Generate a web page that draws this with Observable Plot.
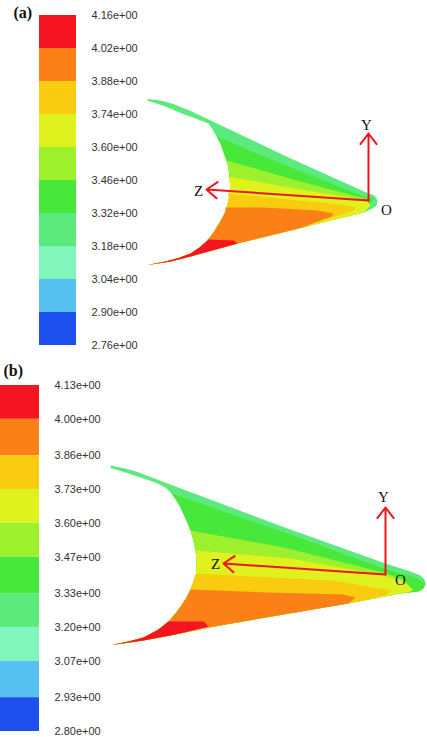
<!DOCTYPE html>
<html><head><meta charset="utf-8">
<script src="https://cdn.jsdelivr.net/npm/d3@7"></script>
<script src="https://cdn.jsdelivr.net/npm/@observablehq/plot@0.6"></script>
<style>
html,body{margin:0;padding:0;background:#fff;overflow:hidden}
#chart{position:relative;width:427px;height:737px}
#chart svg{position:absolute;left:0;top:0}
</style></head><body><div id="chart"></div>
<script>
// Contour palette, top of the legend to bottom
const palette = ["#f5141f","#fb8017","#f9cc10","#dff21e","#9cf02c","#47e83a","#5cea7c","#80f5bc","#56c0f0","#1e50f0"];
const [RED,ORANGE,GOLD,YELLOW,LIME,GREEN,MINT] = palette;

// Legend levels
const ticksA = [4.16,4.02,3.88,3.74,3.60,3.46,3.32,3.18,3.04,2.90,2.76];
const ticksB = [4.13,4.00,3.86,3.73,3.60,3.47,3.33,3.20,3.07,2.93,2.80];

// Panel (a) outline
const aTop    = [[147,98.5],[160,100],[173,103.5],[190,110.5],[208,119],[288,157],[368,193],[374,195],[377,200],[376,205],[372,208],[363,212]];
const aBottom = [[363,212],[300,227.5],[237,243],[190,256],[170,261],[147,264.5]];
const aArc    = [[147,100],[165,106],[180,112.5],[195,118],[208,123],[212,129],[216,136],[220,143],[223,152],[226,160],[228,168],[229,176],[229.5,183],[229.5,190],[228.5,197],[227,204],[225,211],[222,217],[218,224],[213,232],[207,240],[199,247],[190,253],[178,257.5],[165,261],[147,264.5]];
// Panel (a) contour lines, from the arc toward the nose
const aGreenLine  = [[216,136],[290,167],[366,197],[374,197]];
const aLimeLine   = [[226,160],[300,181],[364,198]];
const aYellowLine = [[228,176],[300,189],[366,200],[370,205]];
const aGoldLine   = [[227,193],[290,199],[340,204],[355,207],[354,210]];
const aOrangeLine = [[225,207],[263,207],[317,210],[333,213],[331,216]];
const aRedLine    = [[207,239],[233,240],[237,243]];

// Panel (b) outline
const bTop    = [[110,465],[125,468],[137,471.5],[167,483],[287,528],[385,563],[410,571],[420,575],[424,579],[425,583],[423,588],[418,591],[400,593]];
const bBottom = [[400,593],[353,602],[280,614.5],[208,627],[175,634],[143,640],[111,644.5]];
const bArc    = [[110,467.5],[125,472],[140,477],[155,482],[165,487],[171,493],[176,500],[180,507],[185,518],[190,530],[193,540],[195,550],[196,558],[196,566],[195.5,573],[193,581],[190,589],[186,597],[181,605],[175,613],[168,621],[158,629],[143,637],[128,641],[111,644.5]];
// Panel (b) contour lines
const bGreenLine  = [[171,493],[287,533],[383,568],[415,577],[425,583],[423,588],[418,591]];
const bLimeLine   = [[190,530],[283,547],[383,572],[405,580],[410,592]];
const bYellowLine = [[195,550],[290,558],[383,575],[405,582],[413,590]];
const bGoldLine   = [[195.5,573],[233,575],[333,580],[390,590],[387,594]];
const bOrangeLine = [[190,589],[267,592],[343,594],[355,597],[348,603]];
const bRedLine    = [[168,621],[203,621],[208,626]];

// A region is a contour line, the outer edge back to the tail, then the arc up to where the line starts.
function region(line,bottom,arc){
  const end = line[line.length-1];
  const [sx,sy] = line[0];
  return [...line,...bottom.filter(p=>p[0]<end[0]),...arc.filter(p=>p[1]>sy).reverse()];
}
const regions = [
  [[...aTop,...aBottom.slice(1),...aArc.slice().reverse()],MINT],
  [region(aGreenLine,aBottom,aArc),GREEN],[region(aLimeLine,aBottom,aArc),LIME],[region(aYellowLine,aBottom,aArc),YELLOW],
  [region(aGoldLine,aBottom,aArc),GOLD],[region(aOrangeLine,aBottom,aArc),ORANGE],[region(aRedLine,aBottom,aArc),RED],
  [[...bTop,...bBottom.slice(1),...bArc.slice().reverse()],MINT],
  [region(bGreenLine,bBottom,bArc),GREEN],[region(bLimeLine,bBottom,bArc),LIME],[region(bYellowLine,bBottom,bArc),YELLOW],
  [region(bGoldLine,bBottom,bArc),GOLD],[region(bOrangeLine,bBottom,bArc),ORANGE],[region(bRedLine,bBottom,bArc),RED]
];
const vertices = regions.flatMap(([pts,fill],id) => pts.map(([x,y]) => ({x,y,id,fill})));

// Axis arrows: origin to tip
const axesX1 = [368,368,385,385];
const axesY1 = [200,200,574,574];
const axesX2 = [368,206,385,223];
const axesY2 = [133,189,507,563];
const arrows = axesX1.map((x1,i) => ({x1,y1:axesY1[i],x2:axesX2[i],y2:axesY2[i]}));

const axisNames = ["Y","Z","O","Y","Z","O"];
const axisNameX = [366,198,386,383,215,400];
const axisNameY = [125,191,210,497,564,580];
const axisLabels = axisNames.map((t,i) => ({t,x:axisNameX[i],y:axisNameY[i]}));

const panelNames = ["(a)","(b)"];
const panelX = [13,3];
const panelY = [12,370];
const panels = panelNames.map((t,i) => ({t,x:panelX[i],y:panelY[i]}));

const chart = document.getElementById("chart");

const main = Plot.plot({
  width:427,height:737,margin:0,
  x:{domain:[0,427],range:[0,427],axis:null},
  y:{domain:[0,737],range:[0,737],axis:null},
  style:{background:"#fff"},
  marks:[
    Plot.line(vertices,{x:"x",y:"y",z:"id",fill:"fill",curve:"linear"}),
    Plot.arrow(arrows,{x1:"x1",y1:"y1",x2:"x2",y2:"y2",stroke:"#f0141e",strokeWidth:2,headLength:10,headAngle:75,inset:0}),
    Plot.text(axisLabels,{x:"x",y:"y",text:"t",fontFamily:"Liberation Serif",fontSize:15,fill:"#111"}),
    Plot.text(panels,{x:"x",y:"y",text:"t",textAnchor:"start",fontFamily:"Liberation Serif",fontWeight:"bold",fontSize:16,fill:"#111"})
  ]
});
chart.appendChild(main);

function legend(ticks,x0,x1,yBottom,yTop){
  const cells = ticks.slice(0,-1).map((hi,i) => ({hi,lo:ticks[i+1],fill:palette[i]}));
  return Plot.plot({
    width:427,height:737,margin:0,
    x:{domain:[0,1],range:[x0,x1],axis:null},
    y:{domain:[ticks[ticks.length-1],ticks[0]],range:[yBottom,yTop],axis:null},
    style:{background:"transparent"},
    marks:[
      Plot.rectY(cells,{x1:0,x2:1,y1:"lo",y2:"hi",fill:"fill",inset:0}),
      Plot.text(ticks,{x:1,y:d=>d,text:d=>d.toFixed(2)+"e+00",dx:15,textAnchor:"start",fontFamily:"Liberation Sans",fontSize:11,fill:"#333"})
    ]
  });
}
chart.appendChild(legend(ticksA,39,76,345,15));
chart.appendChild(legend(ticksB,0,39,731,385));
</script></body></html>
